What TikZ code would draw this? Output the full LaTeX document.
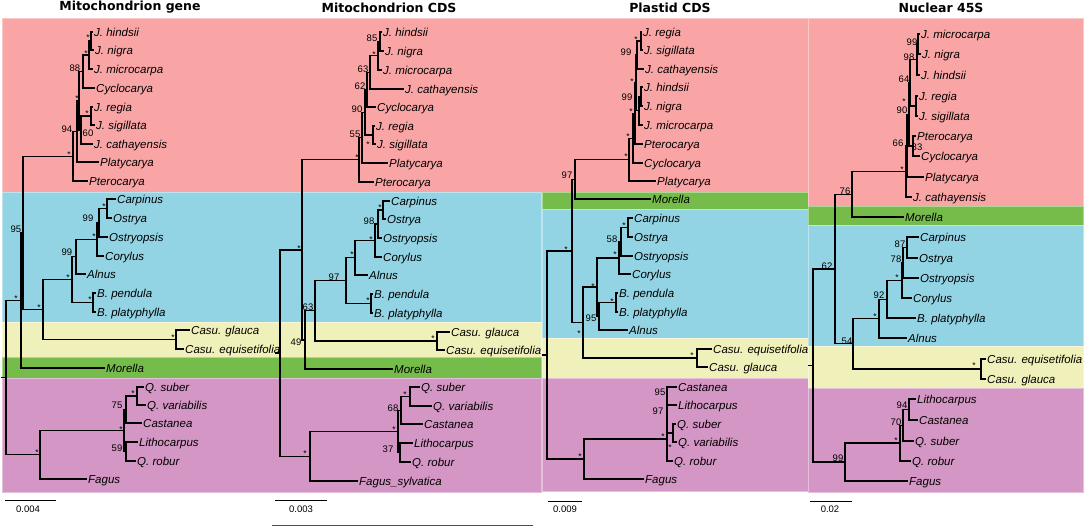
\documentclass[tikz,border=0pt]{standalone}
\usepackage{fontspec}
\setmainfont{Liberation Sans}
\newfontfamily\titlefont{DejaVu Sans}
\usetikzlibrary{calc}
\definecolor{bpink}{RGB}{250,165,165}
\definecolor{bblue}{RGB}{147,212,228}
\definecolor{byellow}{RGB}{240,240,186}
\definecolor{bgreen}{RGB}{118,188,74}
\definecolor{bpurple}{RGB}{212,150,196}
\tikzset{
  branch/.style={line width=1.3pt, line cap=rect},
  tiplab/.style={anchor=west, inner sep=1.5pt, font=\fontsize{11.5}{13}\selectfont\itshape, text height=8pt, text depth=0pt},
  suplab/.style={inner sep=0pt, font=\fontsize{9.5}{10}\selectfont, text height=6.8pt, text depth=0pt},
  starlab/.style={inner sep=0pt, font=\fontsize{8.5}{9}\selectfont, yshift=-1.8pt},
  titlelab/.style={inner sep=0pt, font=\titlefont\bfseries\fontsize{12.5}{14}\selectfont},
  scalelab/.style={inner sep=0pt, font=\fontsize{9.5}{11}\selectfont},
  band/.style={fill=#1, draw=#1!60!white, line width=0.6pt},
}
\newcounter{supc}
\newcommand\tipn[4]{\node[tiplab] (#1l) at (#2-1.5,#3) {#4}; \coordinate (#1) at (#1l.west);}
\newcommand\nd[4]{\path let \p1=(#3), \p2=(#4) in coordinate (#1) at (#2pt,{(\y1+\y2)/2});
  \draw[branch] (#1) |- (#3); \draw[branch] (#1) |- (#4);}
\newcommand\bsv[3]{\stepcounter{supc}\node[suplab] (sup\arabic{supc}) at (#1,#2) {#3};}
\newcommand\bst[2]{\stepcounter{supc}\node[starlab] (sup\arabic{supc}) at (#1,#2) {*};}
\begin{document}
\begin{tikzpicture}[x=1pt,y=-1pt]
\useasboundingbox (0,0) rectangle (1084,528);
\fill[white] (0,0) rectangle (1084,528);
% ---------- bands ----------
\path[band=bpink] (2,18) rectangle (1083,192);
\path[band=bblue] (2,192) rectangle (541,322);
\path[band=byellow] (2,322) rectangle (541,357);
\path[band=bgreen] (2,357) rectangle (541,378);
\path[band=bpurple] (2,378) rectangle (541,492);
\path[band=bgreen] (542,192) rectangle (808,209);
\path[band=bblue] (542,209) rectangle (808,338);
\path[band=byellow] (542,338) rectangle (808,378);
\path[band=bpurple] (542,378) rectangle (808,491);
\path[band=bpink] (808,18) rectangle (1083,206);
\path[band=bgreen] (808,206) rectangle (1083,225);
\path[band=bblue] (808,225) rectangle (1083,346);
\path[band=byellow] (808,346) rectangle (1083,388);
\path[band=bpurple] (808,388) rectangle (1083,492);
% ---------- titles ----------
\node[titlelab] (t1) at (130,7.5) {Mitochondrion gene};
\node[titlelab] (t2) at (389,7.5) {Mitochondrion CDS};
\node[titlelab] (t3) at (670,7.5) {Plastid CDS};
\node[titlelab] (t4) at (941,7.5) {Nuclear 45S};
% =========== Panel 1 ===========
\tipn{A1}{94}{32}{J. hindsii}
\tipn{A2}{95}{50}{J. nigra}
\tipn{A3}{94}{69}{J. microcarpa}
\tipn{A4}{96}{88}{Cyclocarya}
\tipn{A5}{94}{107}{J. regia}
\tipn{A6}{96}{125}{J. sigillata}
\tipn{A7}{94}{144}{J. cathayensis}
\tipn{A8}{100}{162}{Platycarya}
\tipn{A9}{89}{181}{Pterocarya}
\tipn{A10}{117}{199}{Carpinus}
\tipn{A11}{113}{218}{Ostrya}
\tipn{A12}{109}{237}{Ostryopsis}
\tipn{A13}{105}{256}{Corylus}
\tipn{A14}{87}{274}{Alnus}
\tipn{A15}{97}{293}{B. pendula}
\tipn{A16}{97}{312}{B. platyphylla}
\tipn{A17}{191}{330}{Casu. glauca}
\tipn{A18}{185}{349}{Casu. equisetifolia}
\tipn{A19}{106}{368}{Morella}
\tipn{A20}{145}{387}{Q. suber}
\tipn{A21}{147}{405}{Q. variabilis}
\tipn{A22}{143}{423}{Castanea}
\tipn{A23}{139}{442}{Lithocarpus}
\tipn{A24}{137}{461}{Q. robur}
\tipn{A25}{88}{479}{Fagus}
\nd{Aa}{91}{A1}{A2}
\nd{Ab}{89}{Aa}{A3}
\nd{Ac}{83}{Ab}{A4}
\nd{Ad}{91}{A5}{A6}
\nd{Ae}{81}{Ad}{A7}
\nd{Af}{79}{Ac}{Ae}
\nd{Ag}{77}{Af}{A8}
\nd{Ah}{73}{Ag}{A9}
\nd{Ai}{107}{A10}{A11}
\nd{Aj}{99}{Ai}{A12}
\nd{Ak}{97}{Aj}{A13}
\nd{Al}{76}{Ak}{A14}
\nd{Am}{93}{A15}{A16}
\nd{An}{72}{Al}{Am}
\nd{Ao}{176}{A17}{A18}
\nd{Ap}{43}{An}{Ao}
\nd{Aq}{23}{Ah}{Ap}
\nd{Ar}{21}{Aq}{A19}
\nd{As}{137}{A20}{A21}
\nd{At}{126}{As}{A22}
\nd{Au}{126}{A23}{A24}
\nd{Av}{124}{At}{Au}
\nd{Aw}{40}{Av}{A25}
\nd{Ax}{6}{Ar}{Aw}
\draw[branch] (Ax) -- ([xshift=-4.5pt]Ax);
\bst{88}{36}\bst{86}{52}\bsv{75}{68}{88}\bst{87}{112}\bsv{88}{133}{60}\bst{77}{97}\bsv{67}{129}{94}\bst{69}{153}
\bst{104}{205}\bsv{88}{218}{99}\bst{94}{235}\bsv{67}{252}{99}\bst{90}{298}\bst{68}{276}\bst{39}{306}\bst{173}{336}
\bsv{16}{229}{95}\bst{16}{297}
\bst{133}{392}\bsv{117}{405}{75}\bst{121}{428}\bsv{117}{448}{59}\bst{37}{451}
% =========== Panel 2 ===========
\tipn{B1}{383}{32}{J. hindsii}
\tipn{B2}{385}{51}{J. nigra}
\tipn{B3}{383}{70}{J. microcarpa}
\tipn{B4}{405}{89}{J. cathayensis}
\tipn{B5}{377}{107}{Cyclocarya}
\tipn{B6}{376}{126}{J. regia}
\tipn{B7}{377}{144}{J. sigillata}
\tipn{B8}{389}{163}{Platycarya}
\tipn{B9}{375}{182}{Pterocarya}
\tipn{B10}{391}{201}{Carpinus}
\tipn{B11}{387}{219}{Ostrya}
\tipn{B12}{383}{238}{Ostryopsis}
\tipn{B13}{383}{257}{Corylus}
\tipn{B14}{369}{275}{Alnus}
\tipn{B15}{374}{294}{B. pendula}
\tipn{B16}{374}{313}{B. platyphylla}
\tipn{B17}{451}{332}{Casu. glauca}
\tipn{B18}{446}{350}{Casu. equisetifolia}
\tipn{B19}{394}{369}{Morella}
\tipn{B20}{421}{387}{Q. suber}
\tipn{B21}{433}{406}{Q. variabilis}
\tipn{B22}{424}{424}{Castanea}
\tipn{B23}{414}{443}{Lithocarpus}
\tipn{B24}{412}{462}{Q. robur}
\tipn{B25}{359}{481}{Fagus\_sylvatica}
\nd{Ba}{380}{B1}{B2}
\nd{Bb}{378}{Ba}{B3}
\nd{Bc}{370}{Bb}{B4}
\nd{Bd}{367}{Bc}{B5}
\nd{Be}{373}{B6}{B7}
\nd{Bf}{365}{Bd}{Be}
\nd{Bg}{362}{Bf}{B8}
\nd{Bh}{359}{Bg}{B9}
\nd{Bi}{383}{B10}{B11}
\nd{Bj}{378}{Bi}{B12}
\nd{Bk}{375}{Bj}{B13}
\nd{Bl}{355}{Bk}{B14}
\nd{Bm}{371}{B15}{B16}
\nd{Bn}{346}{Bl}{Bm}
\nd{Bo}{437}{B17}{B18}
\nd{Bp}{315}{Bn}{Bo}
\nd{Bq}{305}{Bp}{B19}
\nd{Br}{302}{Bh}{Bq}
\nd{Bs}{410}{B20}{B21}
\nd{Bt}{401}{Bs}{B22}
\nd{Bu}{400}{B23}{B24}
\nd{Bv}{398}{Bt}{Bu}
\nd{Bw}{310}{Bv}{B25}
\nd{Bx}{280}{Br}{Bw}
\draw[branch] (Bx) -- ([xshift=-4.5pt]Bx);
\bsv{372}{38}{85}\bst{374}{53}\bsv{363}{69}{63}\bsv{360}{86}{62}\bsv{357}{109}{90}\bst{368}{143}\bsv{355}{134}{55}\bst{357}{156}
\bst{380}{206}\bsv{369}{221}{98}\bst{371}{238}\bst{352}{253}\bst{368}{299}\bsv{334}{277}{97}\bst{433}{337}\bsv{308}{307}{63}
\bsv{296}{342}{49}\bst{299}{247}
\bst{405}{393}\bsv{393}{408}{68}\bsv{388}{449}{37}\bst{394}{428}\bst{305}{452}
% =========== Panel 3 ===========
\tipn{C1}{643}{32}{J. regia}
\tipn{C2}{644}{50}{J. sigillata}
\tipn{C3}{645}{69}{J. cathayensis}
\tipn{C4}{644}{87}{J. hindsii}
\tipn{C5}{644}{106}{J. nigra}
\tipn{C6}{644}{125}{J. microcarpa}
\tipn{C7}{644}{144}{Pterocarya}
\tipn{C8}{644}{163}{Cyclocarya}
\tipn{C9}{657}{181}{Platycarya}
\tipn{C10}{652}{199}{Morella}
\tipn{C11}{634}{218}{Carpinus}
\tipn{C12}{634}{237}{Ostrya}
\tipn{C13}{634}{256}{Ostryopsis}
\tipn{C14}{632}{274}{Corylus}
\tipn{C15}{619}{293}{B. pendula}
\tipn{C16}{619}{312}{B. platyphylla}
\tipn{C17}{629}{330}{Alnus}
\tipn{C18}{713}{349}{Casu. equisetifolia}
\tipn{C19}{709}{367}{Casu. glauca}
\tipn{C20}{678}{387}{Castanea}
\tipn{C21}{678}{405}{Lithocarpus}
\tipn{C22}{677}{424}{Q. suber}
\tipn{C23}{678}{442}{Q. variabilis}
\tipn{C24}{674}{461}{Q. robur}
\tipn{C25}{645}{479}{Fagus}
\nd{Ca}{641}{C1}{C2}
\nd{Cb}{637}{Ca}{C3}
\nd{Cc}{641}{C4}{C5}
\nd{Cd}{639}{Cc}{C6}
\nd{Ce}{636}{Cb}{Cd}
\nd{Cf}{635}{Ce}{C7}
\nd{Cg}{633}{Cf}{C8}
\nd{Ch}{629}{Cg}{C9}
\nd{Ci}{575}{Ch}{C10}
\nd{Cj}{628}{C11}{C12}
\nd{Ck}{621}{Cj}{C13}
\nd{Cl}{619}{Ck}{C14}
\nd{Cm}{616}{C15}{C16}
\nd{Cn}{599}{Cm}{C17}
\nd{Co}{597}{Cl}{Cn}
\nd{Cp}{697}{C18}{C19}
\nd{Cq}{583}{Co}{Cp}
\nd{Cr}{572}{Ci}{Cq}
\nd{Cs}{673}{C22}{C23}
\coordinate (Ct) at (667,439);
\draw[branch] (Ct) |- (C20); \draw[branch] (Ct) |- (C21);
\draw[branch] (Ct) |- (Cs); \draw[branch] (Ct) |- (C24);
\nd{Cu}{584}{Ct}{C25}
\nd{Cv}{547}{Cr}{Cu}
\draw[branch] (Cv) -- ([xshift=-4.5pt]Cv);
\bst{636}{38}\bsv{626}{52}{99}\bst{632}{80}\bsv{627}{97}{99}\bst{631}{110}\bst{628}{135}\bst{626}{155}\bsv{567}{175}{97}
\bst{624}{224}\bsv{612}{239}{58}\bst{615}{253}\bst{612}{300}\bst{593}{285}\bsv{591}{318}{95}\bst{692}{354}\bst{579}{332}\bst{566}{248}
\bsv{660}{392}{95}\bsv{658}{411}{97}\bst{663}{435}\bst{670}{446}\bst{580}{455}
% =========== Panel 4 ===========
\tipn{D1}{921}{34}{J. microcarpa}
\tipn{D2}{922}{54}{J. nigra}
\tipn{D3}{921}{75}{J. hindsii}
\tipn{D4}{919}{96}{J. regia}
\tipn{D5}{919}{116}{J. sigillata}
\tipn{D6}{917}{136}{Pterocarya}
\tipn{D7}{921}{156}{Cyclocarya}
\tipn{D8}{925}{177}{Platycarya}
\tipn{D9}{913}{197}{J. cathayensis}
\tipn{D10}{905}{217}{Morella}
\tipn{D11}{920}{237}{Carpinus}
\tipn{D12}{919}{258}{Ostrya}
\tipn{D13}{920}{278}{Ostryopsis}
\tipn{D14}{913}{298}{Corylus}
\tipn{D15}{917}{318}{B. platyphylla}
\tipn{D16}{908}{338}{Alnus}
\tipn{D17}{987}{359}{Casu. equisetifolia}
\tipn{D18}{987}{379}{Casu. glauca}
\tipn{D19}{917}{399}{Lithocarpus}
\tipn{D20}{919}{420}{Castanea}
\tipn{D21}{915}{441}{Q. suber}
\tipn{D22}{912}{461}{Q. robur}
\tipn{D23}{909}{481}{Fagus}
\nd{Da}{918}{D1}{D2}
\nd{Db}{917}{Da}{D3}
\nd{Dc}{916}{D4}{D5}
\nd{Dd}{910}{Db}{Dc}
\nd{De}{913}{D6}{D7}
\nd{Df}{909}{Dd}{De}
\nd{Dg}{907}{Df}{D8}
\nd{Dh}{906}{Dg}{D9}
\nd{Di}{852}{Dh}{D10}
\nd{Dj}{907}{D11}{D12}
\nd{Dk}{903}{Dj}{D13}
\nd{Dl}{902}{Dk}{D14}
\nd{Dm}{887}{Dl}{D15}
\nd{Dn}{879}{Dm}{D16}
\nd{Do}{981}{D17}{D18}
\nd{Dp}{853}{Dn}{Do}
\nd{Dq}{835}{Di}{Dp}
\nd{Dr}{909}{D19}{D20}
\nd{Ds}{903}{Dr}{D21}
\nd{Dt}{900}{Ds}{D22}
\nd{Du}{845}{Dt}{D23}
\nd{Dv}{813}{Dq}{Du}
\draw[branch] (Dv) -- ([xshift=-4.5pt]Dv);
\bsv{912}{42}{99}\bsv{909}{57}{98}\bsv{904}{79}{64}\bst{904}{100}\bsv{902}{110}{90}\bsv{898}{143}{66}\bsv{917}{147}{83}\bst{902}{168}\bsv{845}{191}{76}
\bsv{900}{244}{87}\bsv{896}{259}{78}\bst{897}{276}\bsv{879}{295}{92}\bst{875}{315}\bsv{827}{266}{62}\bsv{847}{341}{54}\bst{974}{364}
\bsv{902}{405}{94}\bsv{896}{422}{70}\bst{896}{439}\bsv{838}{458}{99}
% ---------- scale bars ----------
\coordinate (s1a) at (5,500); \coordinate (s1b) at (56,500);
\draw[line width=1pt] (s1a) -- (s1b);
\node[scalelab] (s1t) at (28,509) {0.004};
\coordinate (s2a) at (275,500); \coordinate (s2b) at (327,500);
\draw[line width=1pt] (s2a) -- (s2b);
\node[scalelab] (s2t) at (301,509) {0.003};
\coordinate (s3a) at (548,501); \coordinate (s3b) at (582,501);
\draw[line width=1pt] (s3a) -- (s3b);
\node[scalelab] (s3t) at (565,509) {0.009};
\coordinate (s4a) at (810,501); \coordinate (s4b) at (852,501);
\draw[line width=1pt] (s4a) -- (s4b);
\node[scalelab] (s4t) at (830,509) {0.02};
\coordinate (L1) at (272,525); \coordinate (L2) at (533,525);
\draw[line width=0.8pt, black!70] (L1) -- (L2);
\end{tikzpicture}
\end{document}
